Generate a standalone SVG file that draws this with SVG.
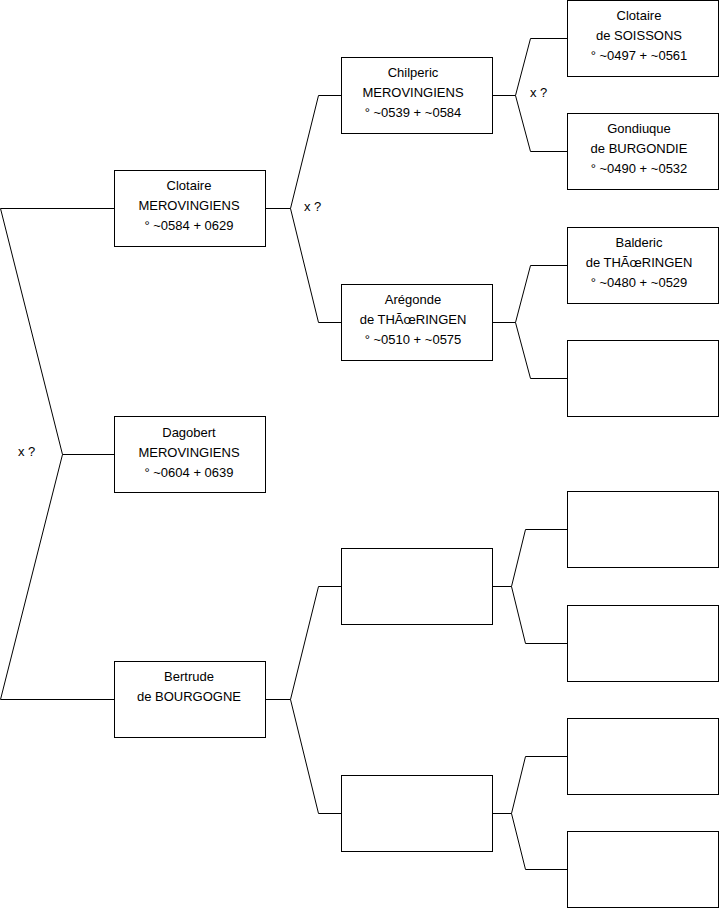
<svg xmlns="http://www.w3.org/2000/svg" width="719" height="908" viewBox="0 0 719 908">
<style>
.box{fill:#fff;stroke:#000;stroke-width:1}
.ln{fill:none;stroke:#000;stroke-width:1}
text{font-family:"Liberation Sans",Arial,sans-serif;font-size:13px;fill:#000;text-anchor:middle}
.lbl{text-anchor:start}
</style>
<rect width="719" height="908" fill="#fff"/>
<g id="connectors">
<path class="ln" d="M0.5,208.5 H114 M0.5,208.5 L62.5,454.5 L0.5,699.5 H114 M62.5,454.5 H114"/>
<path class="ln" d="M265,208.5 H290.5 L318.5,95.5 H341 M290.5,208.5 L318.5,322.5 H341"/>
<path class="ln" d="M492,95.5 H515.5 L530.5,38.5 H567 M515.5,95.5 L530.5,151.5 H567"/>
<path class="ln" d="M492,322.5 H515.5 L530.5,265.5 H567 M515.5,322.5 L530.5,378.5 H567"/>
<path class="ln" d="M265,699.5 H290.5 L318.5,586.5 H341 M290.5,699.5 L318.5,813.5 H341"/>
<path class="ln" d="M492,586.5 H511.5 L525.5,529.5 H567 M511.5,586.5 L525.5,643.5 H567"/>
<path class="ln" d="M492,813.5 H511.5 L525.5,756.5 H567 M511.5,813.5 L525.5,869.5 H567"/>
<text class="lbl" x="18" y="456">x ?</text>
<text class="lbl" x="304" y="211">x ?</text>
<text class="lbl" x="530" y="97">x ?</text>
</g>
<g id="n-clotaire">
<rect class="box" x="114.5" y="170.5" width="151" height="76"/>
<text x="189" y="190">Clotaire</text><text x="189" y="210">MEROVINGIENS</text><text x="189" y="230">° ~0584 + 0629</text>
</g>
<g id="n-dagobert">
<rect class="box" x="114.5" y="416.5" width="151" height="76"/>
<text x="189" y="437">Dagobert</text><text x="189" y="457">MEROVINGIENS</text><text x="189" y="477">° ~0604 + 0639</text>
</g>
<g id="n-bertrude">
<rect class="box" x="114.5" y="661.5" width="151" height="76"/>
<text x="189" y="681">Bertrude</text><text x="189" y="701">de BOURGOGNE</text>
</g>
<g id="n-chilperic">
<rect class="box" x="341.5" y="57.5" width="151" height="76"/>
<text x="413" y="77">Chilperic</text><text x="413" y="97">MEROVINGIENS</text><text x="413" y="117">° ~0539 + ~0584</text>
</g>
<g id="n-aregonde">
<rect class="box" x="341.5" y="284.5" width="151" height="76"/>
<text x="413" y="304">Arégonde</text><text x="413" y="324">de THÃœRINGEN</text><text x="413" y="344">° ~0510 + ~0575</text>
</g>
<g id="n-blank1"><rect class="box" x="341.5" y="548.5" width="151" height="76"/></g>
<g id="n-blank2"><rect class="box" x="341.5" y="775.5" width="151" height="76"/></g>
<g id="n-clotaire-soissons">
<rect class="box" x="567.5" y="0.5" width="151" height="76"/>
<text x="639" y="20">Clotaire</text><text x="639" y="40">de SOISSONS</text><text x="639" y="60">° ~0497 + ~0561</text>
</g>
<g id="n-gondiuque">
<rect class="box" x="567.5" y="113.5" width="151" height="76"/>
<text x="639" y="133">Gondiuque</text><text x="639" y="153">de BURGONDIE</text><text x="639" y="173">° ~0490 + ~0532</text>
</g>
<g id="n-balderic">
<rect class="box" x="567.5" y="227.5" width="151" height="76"/>
<text x="639" y="247">Balderic</text><text x="639" y="267">de THÃœRINGEN</text><text x="639" y="287">° ~0480 + ~0529</text>
</g>
<g id="n-blank3"><rect class="box" x="567.5" y="340.5" width="151" height="76"/></g>
<g id="n-blank4"><rect class="box" x="567.5" y="491.5" width="151" height="76"/></g>
<g id="n-blank5"><rect class="box" x="567.5" y="605.5" width="151" height="76"/></g>
<g id="n-blank6"><rect class="box" x="567.5" y="718.5" width="151" height="76"/></g>
<g id="n-blank7"><rect class="box" x="567.5" y="831.5" width="151" height="76"/></g>
</svg>
